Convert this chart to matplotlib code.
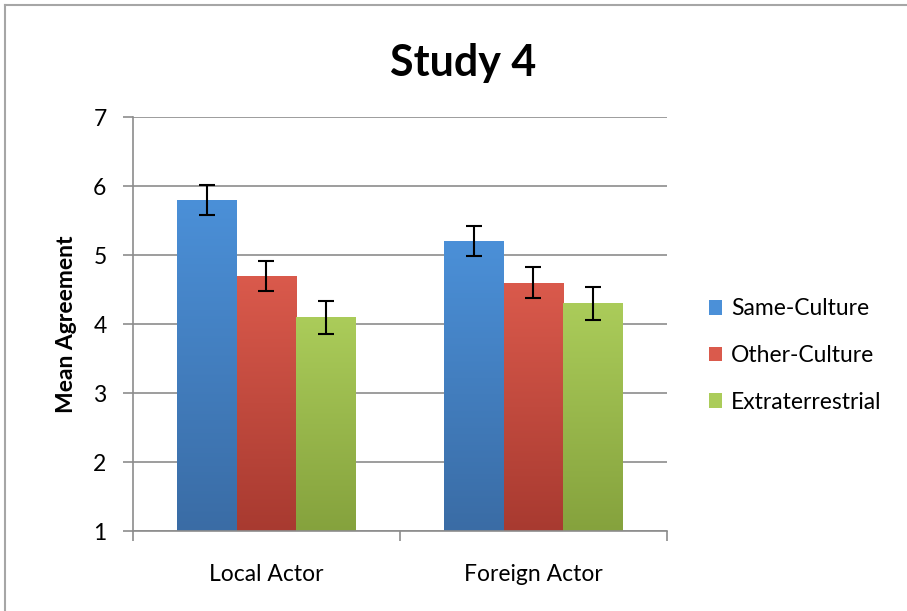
import numpy as np
import matplotlib
matplotlib.use("Agg")
import matplotlib.pyplot as plt
from matplotlib.colors import LinearSegmentedColormap
from matplotlib.patches import Rectangle
from matplotlib.lines import Line2D

categories = ["Local Actor", "Foreign Actor"]
series = ["Same-Culture", "Other-Culture", "Extraterrestrial"]
same_culture = [5.8, 5.2]
other_culture = [4.7, 4.6]
extraterrestrial = [4.1, 4.3]
err_same = [0.22, 0.22]
err_other = [0.22, 0.23]
err_extra = [0.24, 0.24]
yticks = [1, 2, 3, 4, 5, 6, 7]

plt.rcParams['font.family'] = ['Lato', 'DejaVu Sans']

top_cols = ["#4b90d8", "#da5a4c", "#abcc5a"]
bot_cols = ["#3a6ca5", "#a83a30", "#85a23d"]

fig = plt.figure(figsize=(9.07, 6.11), dpi=100)
ax = fig.add_axes([0.1466, 0.1309, 0.5888, 0.6776])

x = np.arange(len(categories))
width = 0.223
vals = [same_culture, other_culture, extraterrestrial]
errs = [err_same, err_other, err_extra]
ymin = 1
for i, (v, e) in enumerate(zip(vals, errs)):
    off = (i - 1) * width
    bars = ax.bar(x + off, np.array(v) - ymin, width, bottom=ymin, color=top_cols[i],
                  edgecolor='none', zorder=2, label=series[i])
    cmap = LinearSegmentedColormap.from_list("g%d" % i, [bot_cols[i], top_cols[i]])
    for b in bars:
        bx, by = b.get_x(), b.get_y()
        bw, bh = b.get_width(), b.get_height()
        grad = np.linspace(0, 1, 256).reshape(-1, 1)
        im = ax.imshow(grad, cmap=cmap, origin='lower', aspect='auto',
                       extent=[bx, bx + bw, by, by + bh], zorder=2.1)
        im.set_clip_path(b)
    ax.errorbar(x + off, v, yerr=e, fmt='none', ecolor='black', elinewidth=1.5,
                capsize=5.5, capthick=1.5, zorder=3)

ax.set_xlim(-0.5, 1.5)
ax.set_ylim(1, 7)
ax.set_yticks(yticks)
ax.set_yticklabels([str(t) for t in yticks], fontsize=16.5)
ax.set_xticks(x)
ax.set_xticklabels(categories, fontsize=16.5)
ax.tick_params(axis='x', length=0, pad=24)
ax.tick_params(axis='y', length=7, color='#8c8c8c', width=1.2, pad=12)
# category boundary ticks on x axis
ax.set_xticks([-0.5, 0.5, 1.5], minor=True)
ax.tick_params(axis='x', which='minor', length=7, color='#8c8c8c', width=1.2)

ax.grid(axis='y', color='#8c8c8c', linewidth=1.2, zorder=0)
ax.set_axisbelow(True)
for s in ['top', 'right']:
    ax.spines[s].set_visible(False)
for s in ['left', 'bottom']:
    ax.spines[s].set_color('#8c8c8c')
    ax.spines[s].set_linewidth(1.2)

ax.set_ylabel("Mean Agreement", fontsize=16.5, fontweight='bold', labelpad=12)
fig.text(0.511, 0.897, "Study 4", fontsize=31, fontweight='bold', ha='center', va='center')

handles = [Rectangle((0, 0), 1, 1, facecolor=c) for c in top_cols]
leg = fig.legend(handles, series, loc='center left', bbox_to_anchor=(0.759, 0.418),
                 frameon=False, fontsize=16.5, handlelength=0.55, handleheight=0.6,
                 handletextpad=0.4, labelspacing=1.12)

# outer chart border
fig.add_artist(Line2D([0.006, 0.006], [0, 0.992], transform=fig.transFigure, color='#a6a6a6', lw=1.5))
fig.add_artist(Line2D([0.006, 1.0], [0.992, 0.992], transform=fig.transFigure, color='#a6a6a6', lw=1.5))

fig.savefig("out.png", dpi=100)
